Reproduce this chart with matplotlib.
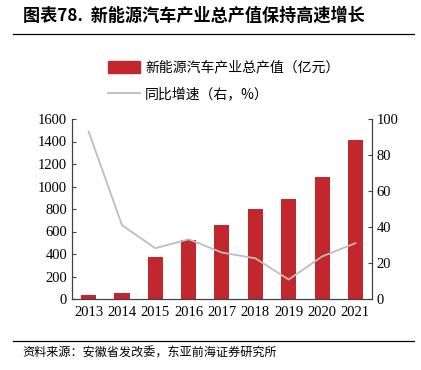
import numpy as np
import matplotlib.pyplot as plt
from matplotlib.patches import Patch
from matplotlib.lines import Line2D

years = ["2013", "2014", "2015", "2016", "2017", "2018", "2019", "2020", "2021"]
output_value = [40, 55, 375, 525, 655, 800, 885, 1085, 1415]   # 亿元
growth = [93.0, 41.0, 28.2, 33.2, 25.8, 22.6, 10.8, 23.6, 31.0]  # %

cjk = ["Noto Sans CJK SC", "DejaVu Sans"]
serif = ["Liberation Serif", "DejaVu Serif"]
red = "#C1272D"
grey = "#BDBDBD"

fig = plt.figure(figsize=(4.21, 3.70), dpi=100)
ax = fig.add_axes([72 / 421, 1 - 299 / 370, 300 / 421, 180 / 370])
ax2 = ax.twinx()

x = np.arange(len(years))
ax.bar(x, output_value, width=0.45, color=red, zorder=2)
ax2.plot(x, growth, color=grey, lw=1.3)

ax.set_xlim(-0.5, len(years) - 0.5)
ax.set_ylim(0, 1600)
ax.set_yticks(range(0, 1601, 200))
ax2.set_ylim(0, 100)
ax2.set_yticks(range(0, 101, 20))
ax.set_xticks(x)
ax.set_xticklabels(years)

for a in (ax, ax2):
    a.spines["top"].set_visible(False)
    for s in ("left", "right", "bottom"):
        a.spines[s].set_color("#404040")
        a.spines[s].set_linewidth(0.8)
    a.tick_params(axis="y", direction="in", length=3, width=0.8, color="#404040", labelsize=10.5)
    for lab in a.get_yticklabels():
        lab.set_family(serif)
ax.tick_params(axis="x", length=0, labelsize=10.5, pad=5)
for lab in ax.get_xticklabels():
    lab.set_family(serif)

# title and rules
fig.text(23 / 421, 1 - 16 / 370, "图表78.  新能源汽车产业总产值保持高速增长",
         family=cjk, fontsize=12.3, fontweight="bold", va="center", ha="left")
fig.add_artist(Line2D([13 / 421, 414 / 421], [1 - 34 / 370] * 2, color="black", lw=0.9))
fig.add_artist(Line2D([13 / 421, 414 / 421], [1 - 341 / 370] * 2, color="black", lw=0.9))
fig.text(22 / 421, 1 - 353 / 370, "资料来源：安徽省发改委，东亚前海证券研究所",
         family=cjk, fontsize=8.7, va="center", ha="left")

handles = [Patch(color=red), Line2D([], [], color=grey, lw=1.3)]
labels = ["新能源汽车产业总产值（亿元）", "同比增速（右，%）"]
fig.legend(handles, labels, loc="upper left", bbox_to_anchor=(102 / 421, 1 - 55 / 370),
           frameon=False, prop={"family": cjk, "size": 10}, handlelength=2.3,
           handleheight=0.9, handletextpad=0.4, labelspacing=0.95, borderaxespad=0)

fig.savefig("out.png", dpi=100)
